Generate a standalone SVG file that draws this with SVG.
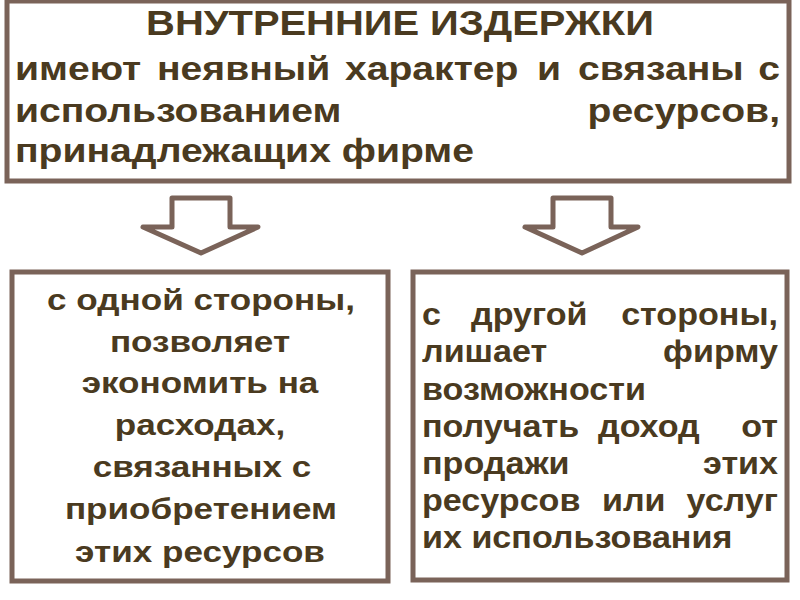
<svg xmlns="http://www.w3.org/2000/svg" width="800" height="600" viewBox="0 0 800 600">
<style>
.box{fill:#ffffff;stroke:#7a6359;stroke-width:5}
.arrow{fill:#ffffff;stroke:#7a6359;stroke-width:5;stroke-linejoin:round}
text{font-family:"Liberation Sans",Arial,sans-serif;font-weight:bold;fill:#4a3a20}
.t1{font-size:35px;text-anchor:middle}
.t2{font-size:34px}
.t3{font-size:30px;text-anchor:middle}
.t4{font-size:31px}
.e{text-anchor:end}
</style>
<rect width="800" height="600" fill="#ffffff"/>
<g id="top">
<rect class="box" x="7" y="1" width="782" height="180"/>
<text class="t1" transform="translate(400,35) scale(1.14,1)">ВНУТРЕННИЕ ИЗДЕРЖКИ</text>
<text class="t2" transform="translate(15,80) scale(1.15,1)">имеют</text>
<text class="t2" transform="translate(157,80) scale(1.15,1)">неявный</text>
<text class="t2" transform="translate(345,80) scale(1.15,1)">характер</text>
<text class="t2" transform="translate(537,80) scale(1.15,1)">и</text>
<text class="t2" transform="translate(578,80) scale(1.15,1)">связаны</text>
<text class="t2 e" transform="translate(780,80) scale(1.15,1)">с</text>
<text class="t2" transform="translate(15,122) scale(1.15,1)">использованием</text>
<text class="t2 e" transform="translate(780,122) scale(1.15,1)">ресурсов,</text>
<text class="t2" transform="translate(15,162) scale(1.15,1)">принадлежащих фирме</text>
</g>
<g id="connectors">
<path class="arrow" d="M172,198 L230,198 L230,227 L258,227 L201,253 L143,227 L172,227 Z"/>
<path class="arrow" d="M553,198 L611,198 L611,227 L638,227 L582,253 L525,227 L553,227 Z"/>
</g>
<g id="left">
<rect class="box" x="12" y="272" width="376" height="309"/>
<text class="t3" transform="translate(201,310) scale(1.17,1)">с одной стороны,</text>
<text class="t3" transform="translate(200,352) scale(1.17,1)">позволяет</text>
<text class="t3" transform="translate(200,393) scale(1.17,1)">экономить на</text>
<text class="t3" transform="translate(200,435) scale(1.17,1)">расходах,</text>
<text class="t3" transform="translate(202,477) scale(1.17,1)">связанных с</text>
<text class="t3" transform="translate(201,519) scale(1.17,1)">приобретением</text>
<text class="t3" transform="translate(200,562) scale(1.17,1)">этих ресурсов</text>
</g>
<g id="right">
<rect class="box" x="413" y="272" width="374" height="308"/>
<text class="t4" transform="translate(422,325) scale(1.1,1)">с</text>
<text class="t4" transform="translate(471,325) scale(1.1,1)">другой</text>
<text class="t4 e" transform="translate(778,325) scale(1.1,1)">стороны,</text>
<text class="t4" transform="translate(422,362) scale(1.1,1)">лишает</text>
<text class="t4 e" transform="translate(778,362) scale(1.1,1)">фирму</text>
<text class="t4" transform="translate(422,400) scale(1.1,1)">возможности</text>
<text class="t4" transform="translate(422,437) scale(1.1,1)">получать</text>
<text class="t4" transform="translate(598,437) scale(1.1,1)">доход</text>
<text class="t4 e" transform="translate(778,437) scale(1.1,1)">от</text>
<text class="t4" transform="translate(422,474) scale(1.1,1)">продажи</text>
<text class="t4 e" transform="translate(778,474) scale(1.1,1)">этих</text>
<text class="t4" transform="translate(422,511) scale(1.1,1)">ресурсов</text>
<text class="t4" transform="translate(602,511) scale(1.1,1)">или</text>
<text class="t4 e" transform="translate(778,511) scale(1.1,1)">услуг</text>
<text class="t4" transform="translate(422,548) scale(1.1,1)">их использования</text>
</g>
</svg>
